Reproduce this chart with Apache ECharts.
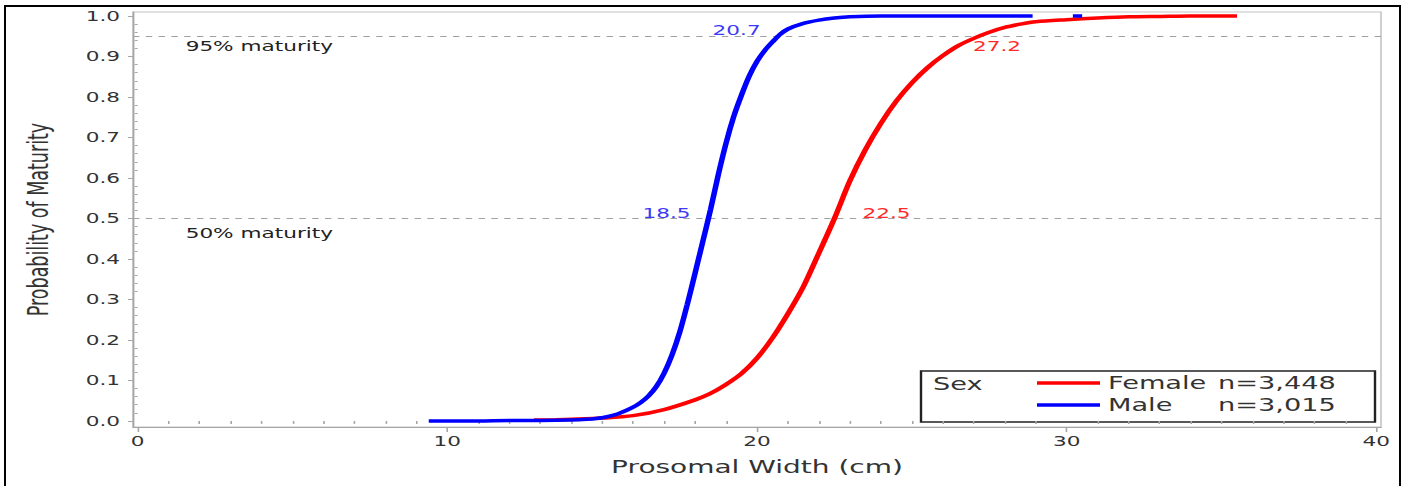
<!DOCTYPE html>
<html>
<head>
<meta charset="utf-8">
<script src="https://cdn.jsdelivr.net/npm/echarts@6/dist/echarts.min.js"></script>
<style>
	html, body { margin: 0; padding: 0; background: #fff; overflow: hidden; }
	#wrap { position: relative; width: 1408px; height: 486px; overflow: hidden; background: #fff; }
	/* the original figure is stretched sideways, so draw narrow and scale */
	#chart { position: absolute; left: 0; top: 0; width: 880px; height: 486px; transform: scaleX(1.6); transform-origin: 0 0; }
	#frame { position: absolute; left: 4px; top: 5px; width: 1393px; height: 500px; border: 2px solid #000; pointer-events: none; }
</style>
</head>
<body>
<div id="wrap"><div id="chart"></div><div id="frame"></div></div>
<script>
var SX = 1.6;
function px(v) { return v / SX; }

// Female fitted curve
var femaleX = [12.8, 13.5, 14.0, 15.0, 16.0, 17.0, 18.0, 18.5, 19.0, 19.5, 20.0, 20.5, 21.0, 21.5, 22.0, 22.5, 23.0, 23.5, 24.0, 24.5, 25.0, 25.5, 26.0, 26.5, 27.0, 27.5, 28.0, 28.5, 29.0, 30.0, 31.0, 32.0, 33.0, 34.0, 35.5];
var femaleP = [0.002, 0.003, 0.004, 0.007, 0.013, 0.028, 0.052, 0.068, 0.090, 0.117, 0.155, 0.205, 0.265, 0.332, 0.415, 0.500, 0.593, 0.670, 0.735, 0.790, 0.835, 0.872, 0.902, 0.927, 0.945, 0.960, 0.972, 0.980, 0.986, 0.991, 0.995, 0.998, 0.999, 1.000, 1.000];
// Male fitted curve (gap between 28.9 and 30.2)
var maleX = [9.4, 10.0, 11.0, 12.0, 13.0, 14.0, 14.5, 15.0, 15.5, 16.0, 16.25, 16.5, 16.75, 17.0, 17.25, 17.5, 17.75, 18.0, 18.25, 18.5, 18.75, 19.0, 19.25, 19.5, 19.75, 20.0, 20.25, 20.5, 20.75, 21.0, 21.5, 22.0, 22.5, 23.0, 24.0, 26.0, 28.9, 29.6, 30.2, 30.5];
var maleP = [0, 0, 0, 0.001, 0.001, 0.002, 0.004, 0.008, 0.017, 0.034, 0.046, 0.062, 0.085, 0.118, 0.162, 0.218, 0.288, 0.365, 0.443, 0.522, 0.608, 0.686, 0.752, 0.805, 0.852, 0.888, 0.915, 0.936, 0.955, 0.968, 0.982, 0.99, 0.995, 0.998, 1, 1, 1, null, 1, 1];

var sexNames = ['Female', 'Male'];
var sampleSizes = ['n=3,448', 'n=3,015'];
var sexColors = ['#ff0000', '#0000ff'];
var labelColors = ['#ff2b2b', '#3b3bf5'];

var maturityLevels = [0.5, 0.95];
var maturityText = ['50% maturity', '95% maturity'];
var femaleMarks = [22.5, 27.2];
var maleMarks = [18.5, 20.7];

var xTicks = [0, 10, 20, 30, 40];
var yTicks = [0.0, 0.1, 0.2, 0.3, 0.4, 0.5, 0.6, 0.7, 0.8, 0.9, 1.0];
var xMinor = [];
for (var i = 1; i < 40; i++) { if (i % 10 !== 0) xMinor.push(i); }
var yMinor = [];
for (var j = 1; j < 50; j++) { if (j % 5 !== 0) yMinor.push(j / 50); }

var font = 'DejaVu Sans';
var gray = '#a6a6a6';

function pairs(xs, ps) {
	return xs.map(function (x, k) { return [x, ps[k] === null ? '-' : ps[k]]; });
}

// value labels next to the curves
var femalePoints = [
	{ coord: [femaleMarks[0], maturityLevels[0]], value: femaleMarks[0].toFixed(1), label: { position: [px(28), -5], align: 'left' } },
	{ coord: [femaleMarks[1], maturityLevels[1]], value: femaleMarks[1].toFixed(1), label: { position: [px(-7), 10], align: 'left' } },
	{ coord: [0, maturityLevels[0]], value: maturityText[0], label: { position: [px(48), 15], align: 'left', color: '#222' } },
	{ coord: [0, maturityLevels[1]], value: maturityText[1], label: { position: [px(48), 10], align: 'left', color: '#222' } }
];
var malePoints = [
	{ coord: [maleMarks[0], maturityLevels[0]], value: maleMarks[0].toFixed(1), label: { position: [px(-20), -5], align: 'right' } },
	{ coord: [maleMarks[1], maturityLevels[1]], value: maleMarks[1].toFixed(1), label: { position: [px(-18), -6], align: 'right' } }
];

var chart = echarts.init(document.getElementById('chart'), null, { renderer: 'svg' });

chart.setOption({
	animation: false,
	backgroundColor: '#fff',
	textStyle: { fontFamily: font },
	grid: {
		left: px(133), right: px(27), top: 12, bottom: 59,
		show: true, borderColor: '#c4c4c4', borderWidth: 1,
		containLabel: false, outerBoundsMode: 'none'
	},
	legend: {
		data: sexNames.map(function (n, k) { return { name: n, icon: 'rect', itemStyle: { color: sexColors[k] } }; }),
		orient: 'vertical',
		left: px(1037), top: 373, padding: 0,
		itemWidth: px(63), itemHeight: 3.5, itemGap: 2,
		textStyle: {
			fontFamily: font, fontSize: 17, color: '#333', lineHeight: 20,
			rich: { a: { width: px(110), fontSize: 17, fontFamily: font, color: '#333', lineHeight: 20 }, b: { fontSize: 17, fontFamily: font, color: '#333', lineHeight: 20 } }
		},
		formatter: function (name) {
			return '{a|' + name + '}{b|' + sampleSizes[sexNames.indexOf(name)] + '}';
		}
	},
	graphic: [
		{ type: 'rect', silent: true, shape: { x: px(921), y: 371, width: px(1375 - 921), height: 51 }, style: { fill: 'none', stroke: '#222', lineWidth: 1.5 } },
		{ type: 'text', silent: true, x: px(933), y: 384, style: { text: 'Sex', fontFamily: font, fontSize: 17, fill: '#333', verticalAlign: 'middle' } }
	],
	xAxis: [{
		type: 'value', min: -0.15, max: 40.15, position: 'bottom',
		name: 'Prosomal Width (cm)', nameLocation: 'middle', nameGap: 31,
		nameTextStyle: { fontFamily: font, fontSize: 17.5, color: '#333' },
		axisLine: { show: true, onZero: false, lineStyle: { color: gray } },
		axisTick: { show: true, customValues: xTicks, length: 5, lineStyle: { color: gray } },
		axisLabel: { customValues: xTicks, margin: 7, fontSize: 13.5, color: '#333' },
		splitLine: { show: false }
	}, {
		type: 'value', min: -0.15, max: 40.15, position: 'bottom',
		axisLine: { show: false },
		axisTick: { show: true, customValues: xMinor, length: 3, lineStyle: { color: gray } },
		axisLabel: { show: false },
		splitLine: { show: false }
	}],
	yAxis: [{
		type: 'value', min: -0.015, max: 1.01, position: 'left',
		name: 'Probability of Maturity', nameLocation: 'middle', nameGap: 50,
		nameTextStyle: { fontFamily: font, fontSize: 17.5, color: '#333' },
		axisLine: { show: true, onZero: false, lineStyle: { color: gray } },
		axisTick: { show: true, customValues: yTicks, length: px(5), lineStyle: { color: gray } },
		axisLabel: { customValues: yTicks, margin: px(13), fontSize: 13.5, color: '#333', formatter: function (v) { return v.toFixed(1); } },
		splitLine: { show: false }
	}, {
		type: 'value', min: -0.015, max: 1.01, position: 'left',
		axisLine: { show: false },
		axisTick: { show: true, customValues: yMinor, length: px(3), lineStyle: { color: gray } },
		axisLabel: { show: false },
		splitLine: { show: false }
	}],
	series: [{
		name: sexNames[0],
		type: 'line',
		xAxisIndex: 0, yAxisIndex: 0,
		data: pairs(femaleX, femaleP),
		symbol: 'none', smooth: 0.3, z: 3,
		lineStyle: { color: sexColors[0], width: 3.5 },
		itemStyle: { color: sexColors[0] },
		markLine: {
			silent: true, symbol: 'none', z: 1,
			label: { show: false },
			lineStyle: { color: '#a0a0a0', type: [4, 4], width: 1 },
			data: maturityLevels.map(function (v) { return { yAxis: v }; })
		},
		markPoint: {
			silent: true, symbol: 'circle', symbolSize: 0,
			label: { show: true, color: labelColors[0], fontSize: 13.5, fontFamily: font, verticalAlign: 'middle' },
			data: femalePoints
		}
	}, {
		name: sexNames[1],
		type: 'line',
		xAxisIndex: 0, yAxisIndex: 0,
		data: pairs(maleX, maleP),
		symbol: 'none', smooth: 0.3, z: 4,
		connectNulls: false,
		lineStyle: { color: sexColors[1], width: 3.5 },
		itemStyle: { color: sexColors[1] },
		markPoint: {
			silent: true, symbol: 'circle', symbolSize: 0,
			label: { show: true, color: labelColors[1], fontSize: 13.5, fontFamily: font, verticalAlign: 'middle' },
			data: malePoints
		}
	}]
});
</script>
</body>
</html>
